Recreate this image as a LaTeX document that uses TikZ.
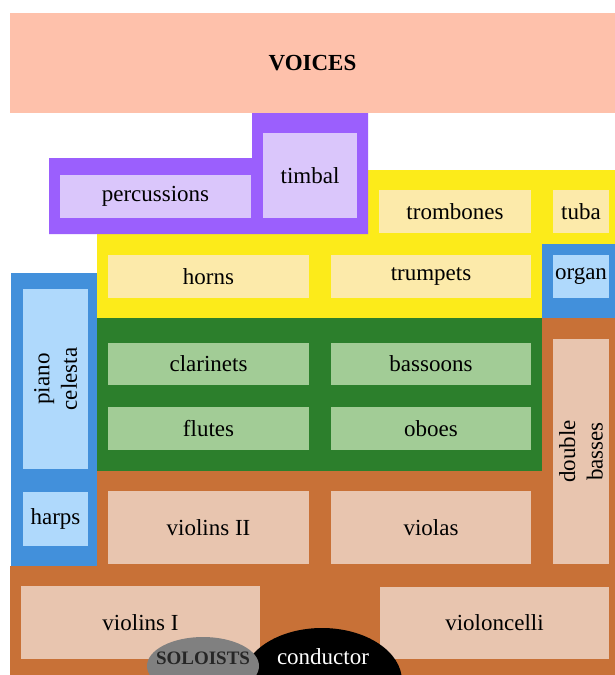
\documentclass[tikz,border=0pt]{standalone}
\usepackage{fontspec}
\setmainfont{Liberation Serif}
\definecolor{voicec}{HTML}{FEC1AB}
\definecolor{purpo}{HTML}{9B5FFD}
\definecolor{purpi}{HTML}{DAC6FB}
\definecolor{yello}{HTML}{FCEB1A}
\definecolor{yelli}{HTML}{FCEAAA}
\definecolor{blueo}{HTML}{4290DB}
\definecolor{bluei}{HTML}{AFD9FC}
\definecolor{greeno}{HTML}{2C7F2C}
\definecolor{greeni}{HTML}{A2CC96}
\definecolor{browno}{HTML}{C87137}
\definecolor{browni}{HTML}{E8C5AF}
\definecolor{solgray}{HTML}{808080}
\tikzset{
  inbox/.style={inner sep=0pt, outer sep=0pt, align=center,
    font=\rmfamily\fontsize{23}{27.5}\selectfont},
  purpbox/.style={inbox, fill=purpi},
  yelbox/.style={inbox, fill=yelli},
  bluebox/.style={inbox, fill=bluei},
  grnbox/.style={inbox, fill=greeni},
  brnbox/.style={inbox, fill=browni},
}
\begin{document}
\begin{tikzpicture}[x=1pt,y=-1pt]
\useasboundingbox (0,0) rectangle (615,675);
\fill[white] (0,0) rectangle (615,675);
\begin{scope}
\clip (0,0) rectangle (615,675);
% VOICES
\node[inner sep=0pt, fill=voicec, minimum width=605pt, minimum height=100pt,
  font=\rmfamily\fontsize{23}{27.5}\selectfont\bfseries] (voices) at (312.5,63) {VOICES};
% outer regions
\fill[yello] (97,234) -- (368,234) -- (368,170) -- (615,170) -- (615,318) -- (97,318) -- cycle;
\fill[purpo] (49,158) -- (252,158) -- (252,113) -- (368,113) -- (368,234) -- (49,234) -- cycle;
\fill[greeno] (97,318) rectangle (542,470.5);
\fill[blueo] (542,244) rectangle (615,318);
\fill[browno] (542,318) rectangle (615,675);
\fill[browno] (97,470.5) rectangle (615,675);
\fill[browno] (10,566) rectangle (615,675);
\fill[blueo] (10.5,273) rectangle (97,566);
% inner boxes
\node[purpbox, minimum width=191pt, minimum height=43pt] (perc) at (155.5,196.5) {percussions};
\node[purpbox, minimum width=94pt, minimum height=85pt] (timbal) at (310,175.5) {timbal};
\node[yelbox, minimum width=152pt, minimum height=43pt] (trombones) at (455,211.5) {trombones};
\node[yelbox, minimum width=56pt, minimum height=43pt] (tuba) at (581,211.5) {tuba};
\node[yelbox, minimum width=201pt, minimum height=43pt] (horns) at (208.5,276.5) {horns};
\node[yelbox, minimum width=200pt, minimum height=43pt] (trumpets) at (431,276.5) {trumpets};
\node[bluebox, minimum width=56pt, minimum height=43pt] (organ) at (581,276.5) {organ};
\node[bluebox, rotate=90, minimum width=180pt, minimum height=65pt] (piano) at (55.5,379) {piano\\celesta};
\node[grnbox, minimum width=201pt, minimum height=42pt] (clarinets) at (208.5,364) {clarinets};
\node[grnbox, minimum width=200pt, minimum height=42pt] (bassoons) at (431,364) {bassoons};
\node[grnbox, minimum width=201pt, minimum height=43pt] (flutes) at (208.5,428.5) {flutes};
\node[grnbox, minimum width=200pt, minimum height=43pt] (oboes) at (431,428.5) {oboes};
\node[brnbox, rotate=90, minimum width=225pt, minimum height=56pt] (basses) at (581,451.5) {double\\basses};
\node[bluebox, minimum width=65pt, minimum height=54pt] (harps) at (55.5,519) {harps};
\node[brnbox, minimum width=201pt, minimum height=73pt] (violinsII) at (208.5,527.5) {violins II};
\node[brnbox, minimum width=200pt, minimum height=73pt] (violas) at (431,527.5) {violas};
\node[brnbox, minimum width=239pt, minimum height=73pt] (violinsI) at (140.5,622.5) {violins I};
\node[brnbox, minimum width=229pt, minimum height=72pt] (cello) at (494.5,623) {violoncelli};
% conductor and soloists
\fill[black] (322,681) ellipse [x radius=80, y radius=53];
\node[inner sep=0pt, text=white, font=\rmfamily\fontsize{23}{27.5}\selectfont] (conductor) at (323,657) {conductor};
\fill[solgray] (203,666) ellipse [x radius=56, y radius=29];
\node[inner sep=0pt, text=black!85, font=\rmfamily\fontsize{19}{22}\selectfont\bfseries] (soloists) at (203,658) {SOLOISTS};
\end{scope}
\end{tikzpicture}
\end{document}
